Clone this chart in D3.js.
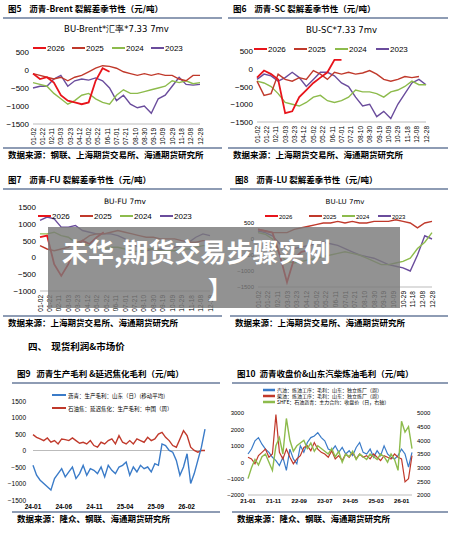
<!DOCTYPE html>
<html><head><meta charset="utf-8">
<script src="https://cdn.jsdelivr.net/npm/d3@7"></script>
<style>
body{margin:0;background:#fff;font-family:"Noto Sans CJK SC","Noto Sans",sans-serif;}
text{white-space:pre;}
</style></head><body>
<script>
const W=451,H=537;
const seasonTicks=['01-02','01-22','02-11','03-03','03-23','04-12','05-02','05-22','06-11','07-01','07-21','08-10','08-30','09-19','10-09','10-29','11-18','12-08','12-28'];
const years=['2026','2025','2024','2023'];
const yearColors=['#e8141b','#c0392b','#8dbb4c','#6a4c9c'];
// seasonal values, evenly spaced over the year (25 points = full year)
const brent26=[-100,-250,-200,-350,-700,-850,-900,-950,-900,-300,50,-50];
const brent25=[-100,-150,-200,-250,-200,-300,-200,-150,-50,50,120,100,50,-50,-100,-150,-100,-150,-100,-150,-150,-250,-300,-150,-150];
const brent24=[-350,-400,-450,-650,-800,-950,-850,-700,-650,-800,-900,-950,-700,-550,-650,-650,-600,-550,-500,-450,-300,-350,-300,-380,-350];
const brent23=[-500,-450,-450,-250,-150,-450,-300,-250,-280,-220,-300,-500,-850,-700,-950,-1050,-1000,-1200,-800,-700,-450,-200,-400,-420,-400];
const sc26=[-250,-50,-150,-300,-1250,-1200,-800,-600,-400,-250,-100,250,250];
const sc25=[-350,-750,-700,-150,-300,-350,-250,-300,-50,-150,-300,-100,-150,-100,-150,-120,-50,-150,-300,-350,-300,-220,-250,-220];
const sc24=[-350,-400,-500,-700,-950,-1000,-1050,-950,-800,-750,-900,-950,-900,-800,-600,-650,-650,-700,-800,-650,-600,-500,-350,-450,-450];
const sc23=[-300,-150,-200,-350,-250,-100,-250,-500,-300,-100,-100,-200,-400,-500,-800,-1050,-1000,-1350,-1200,-1400,-1000,-700,-400,-300,-450];
const fu26=[600,650,-200,-550,-200,300,500,400,600,750];
const fu25=[350,250,200,250,300,450,500,650,700,700,750,800,750,700,650,600,600,550,550,550,500,450,450,500,500];
const fu24=[700,700,750,650,600,450,400,350,300,250,300,300,250,150,200,250,250,200,200,200,250,250,300,350,350];
const fu23=[1100,1200,1150,900,900,950,800,750,700,700,700,650,550,400,300,200,250,250,200,300,350,450,600,700,650];
const lu26=[300,250,200,-500,-1350,-600,-400,-350];
const lu25=[300,250,200,200,200,300,350,400,450,500,500,550,500,550,500,500,550,550,550,600,550,500,350,500,550];
const lu24=[200,150,0,-500,-700,-750,-700,-650,-600,-550,-500,-450,-400,-450,-500,-600,-700,-800,-800,-750,-700,-600,-300,-100,200];
const lu23=[250,200,100,-150,-300,-300,-250,-200,-150,-100,-150,-200,-300,-400,-500,-550,-600,-700,-800,-850,-900,-1000,-500,100,0];
// fig 9 (24-01 .. 26-05)
const p9Ticks=['24-01','24-06','24-11','25-04','25-09','26-02'];
const p9Pos=[0,5,10,15,20,25];
const p9Blue=[-450,-750,-900,-1000,-1100,-1200,-850,-700,-550,-800,-650,-500,-850,-700,-450,-750,-550,-600,-700,-500,-800,-450,-600,-700,-500,-450,-350,-750,-500,-650,-450,-550,-500,-650,-400,-450,200,150,0,-50,-300,-750,-500,-100,-1000,-700,-300,100,650];
const p9Red=[480,400,350,300,380,250,300,200,350,330,300,380,300,220,250,200,300,150,100,250,200,300,350,200,450,250,200,300,200,350,300,250,400,300,350,500,550,400,300,150,100,350,600,450,100,0,-50,0,0];
// fig 10 (21-01 .. 26-05), left axis gasoline & diesel, right axis close price
const p10Ticks=['21-01','21-11','22-09','23-07','24-05','25-03','26-01'];
const p10Pos=[0,10,20,30,40,50,60];
const p10Gas=[500,800,1300,1500,1100,800,600,300,100,-200,300,-500,800,200,-100,1000,600,1200,1500,1600,1800,1500,1300,800,700,1000,600,900,500,700,400,900,1200,600,500,800,300,700,400,1000,500,300,200,400,800,500,-300,600];
const p10Dsl=[300,200,-100,400,600,800,300,500,2900,600,200,800,300,-100,200,400,900,1000,700,1200,800,600,500,300,700,200,400,100,500,300,600,200,500,300,400,200,500,300,100,400,300,200,500,300,200,-1200,-1000,400];
const p10Px=[2600,3000,3300,3100,3400,3500,3200,2900,3800,4100,3500,4800,4000,3600,3800,3900,4000,3700,3900,3600,3800,3700,3600,3500,3700,3400,3600,3200,3500,3400,3600,3300,3500,3400,3300,3500,3400,3300,3500,3400,3200,3500,3300,2900,4700,4300,4500,3700];

const svg=d3.select('body').append('svg').attr('width',W).attr('height',H);
const navy='#1f3a6b';
const F='"Noto Sans CJK SC",sans-serif';
const fmt=d3.format('d');

function frame(x0,x1,yTitle,yBot,title,source){
  svg.append('text').attr('x',x0+5).attr('y',yTitle).attr('font-size',8.5).attr('font-weight','bold').attr('font-family',F).text(title);
  svg.append('line').attr('x1',x0).attr('x2',x1).attr('y1',yTitle+6).attr('y2',yTitle+6).attr('stroke',navy).attr('stroke-width',1.2);
  svg.append('line').attr('x1',x0).attr('x2',x1).attr('y1',yBot).attr('y2',yBot).attr('stroke',navy).attr('stroke-width',1.2);
  svg.append('text').attr('x',x0+5).attr('y',yBot+10).attr('font-size',8.5).attr('font-weight','bold').attr('font-family',F).text(source);
}

function seasonal(c){
  const x=d3.scaleLinear().domain([0,24]).range([c.x0,c.x1]);
  const y=d3.scaleLinear().domain(c.ydom).range([c.yb,c.yt]);
  svg.append('text').attr('x',(c.x0+c.x1)/2).attr('y',c.ct).attr('text-anchor','middle').attr('font-size',c.cfs||8.5).attr('font-family','DejaVu Sans').text(c.chartTitle);
  svg.append('g').attr('transform',`translate(${c.x0},0)`).call(d3.axisLeft(y).tickValues(c.yticks).tickFormat(fmt).tickSize(0).tickPadding(4))
    .call(g=>{g.select('.domain').remove();g.selectAll('text').attr('font-size',c.tfs||8).attr('font-family','Liberation Sans');});
  const xl=d3.scalePoint().domain(seasonTicks).range([c.x0,c.x1]);
  svg.append('line').attr('x1',c.x0).attr('x2',c.x1).attr('y1',c.yb).attr('y2',c.yb).attr('stroke','#bbb');
  svg.append('g').selectAll('text').data(seasonTicks).join('text')
    .attr('transform',d=>`translate(${xl(d)+2.5},${c.yb+4}) rotate(-90)`).attr('text-anchor','end')
    .attr('font-size',6.5).attr('font-family','Liberation Sans').text(d=>d);
  const line=d3.line().x((d,i)=>x(i)).y(d=>y(d));
  [c.s23,c.s24,c.s25,c.s26].forEach((s,k)=>{
    const idx=3-k;
    svg.append('path').attr('d',line(s)).attr('fill','none').attr('stroke',yearColors[idx]).attr('stroke-width',idx===0?1.8:1.4);
  });
  c.leg.forEach((lx,i)=>{
    svg.append('line').attr('x1',lx).attr('x2',lx+13).attr('y1',c.ly).attr('y2',c.ly).attr('stroke',yearColors[i]).attr('stroke-width',2);
    svg.append('text').attr('x',lx+14).attr('y',c.ly+3).attr('font-size',c.lfs||8).attr('font-family','Liberation Sans').text(years[i]);
  });
}

frame(3,222,12,148,'图5    沥青-Brent 裂解差季节性（元/吨）','数据来源：钢联、上海期货交易所、海通期货研究所');
seasonal({x0:33,x1:200,yt:52,yb:124,ydom:[-1500,500],yticks:[-1500,-1000,-500,0,500],ct:32,chartTitle:'BU-Brent*汇率*7.33 7mv',ly:48,leg:[33,72,112,151],s26:brent26,s25:brent25,s24:brent24,s23:brent23});
frame(228,448,12,148,'图6    沥青-SC 裂解差季节性（元/吨）','数据来源：上海期货交易所、海通期货研究所');
seasonal({x0:257,x1:426,yt:51,yb:122,ydom:[-1500,500],yticks:[-1500,-1000,-500,0,500],ct:33,chartTitle:'BU-SC*7.33 7mv',ly:49,leg:[254,294,335,376],s26:sc26,s25:sc25,s24:sc24,s23:sc23});
frame(3,222,183,316,'图7    沥青-FU 裂解差季节性（元/吨）','数据来源：上海期货交易所、海通期货研究所');
seasonal({x0:40,x1:210,yt:207,yb:291,ydom:[-1000,1500],yticks:[-1000,-500,0,500,1000,1500],ct:204,chartTitle:'BU-FU 7mv',cfs:7.5,ly:216,leg:[38,80,120,160],s26:fu26,s25:fu25,s24:fu24,s23:fu23});
frame(230,448,183,316,'图8    沥青-LU 裂解差季节性（元/吨）','数据来源：上海期货交易所、海通期货研究所');
seasonal({x0:258,x1:432,yt:223,yb:287,ydom:[-1500,500],yticks:[-1500,-1000,-500,0,500],tfs:6,ct:204,chartTitle:'BU-LU 7mv',cfs:7,ly:216,leg:[265,309,342,378],lfs:6,s26:lu26,s25:lu25,s24:lu24,s23:lu23});

svg.append('text').attr('x',28).attr('y',350).attr('font-size',9.5).attr('font-weight','bold').attr('font-family',F).text('四、  现货利润&市场价');

// fig 9
frame(12,220,377,512,'图9   沥青生产毛利 &延迟焦化毛利（元/吨）','数据来源：隆众、钢联、海通期货研究所');
{
  const x=d3.scaleLinear().domain([0,28]).range([33,205]);
  const y=d3.scaleLinear().domain([-1500,1500]).range([500,401]);
  svg.append('g').attr('transform','translate(28,0)').call(d3.axisLeft(y).tickValues([-1500,-1000,-500,0,500,1000,1500]).tickFormat(fmt).tickSize(0).tickPadding(2))
    .call(g=>{g.select('.domain').remove();g.selectAll('text').attr('font-size',6.5).attr('font-family','Liberation Sans');});
  svg.append('line').attr('x1',33).attr('x2',205).attr('y1',y(0)).attr('y2',y(0)).attr('stroke','#bbb');
  svg.append('g').selectAll('text').data(p9Ticks).join('text').attr('x',(d,i)=>x(p9Pos[i])).attr('y',509).attr('text-anchor','middle')
    .attr('font-size',6.5).attr('font-family','Liberation Sans').attr('font-weight','bold').text(d=>d);
  const lx=d3.scaleLinear().domain([0,p9Blue.length-1]).range([33,205]);
  const ln=d3.line().x((d,i)=>lx(i)).y(d=>y(d));
  svg.append('path').attr('d',ln(p9Red)).attr('fill','none').attr('stroke','#c0392b').attr('stroke-width',1.4);
  svg.append('path').attr('d',ln(p9Blue)).attr('fill','none').attr('stroke','#3a7bc8').attr('stroke-width',1.4);
  [['#3a7bc8','沥青：生产毛利：山东（日）(移动平均)',395],['#c0392b','石油焦：延迟焦化：生产毛利：中国（周）',408]].forEach(d=>{
    svg.append('line').attr('x1',52).attr('x2',66).attr('y1',d[2]).attr('y2',d[2]).attr('stroke',d[0]).attr('stroke-width',2);
    svg.append('text').attr('x',68).attr('y',d[2]+2.5).attr('font-size',5.5).attr('font-family',F).text(d[1]);
  });
}
// fig 10
frame(232,448,377,512,'图10  沥青收盘价&山东汽柴炼油毛利（元/吨）','数据来源：隆众、钢联、海通期货研究所');
{
  const x=d3.scaleLinear().domain([0,64]).range([248,412]);
  const yl=d3.scaleLinear().domain([-2000,3000]).range([495,413]);
  const yr=d3.scaleLinear().domain([2000,5000]).range([495,413]);
  svg.append('g').attr('transform','translate(246,0)').call(d3.axisLeft(yl).tickValues([-2000,-1000,0,1000,2000,3000]).tickFormat(fmt).tickSize(0).tickPadding(2))
    .call(g=>{g.select('.domain').remove();g.selectAll('text').attr('font-size',6).attr('font-family','Liberation Sans');});
  svg.append('g').attr('transform','translate(414,0)').call(d3.axisRight(yr).tickValues([2000,2500,3000,3500,4000,4500,5000]).tickFormat(fmt).tickSize(0).tickPadding(3))
    .call(g=>{g.select('.domain').remove();g.selectAll('text').attr('font-size',6).attr('font-family','Liberation Sans');});
  svg.append('line').attr('x1',248).attr('x2',412).attr('y1',495).attr('y2',495).attr('stroke','#bbb');
  svg.append('g').selectAll('text').data(p10Ticks).join('text').attr('x',(d,i)=>x(p10Pos[i])).attr('y',503).attr('text-anchor','middle')
    .attr('font-size',6).attr('font-family','Liberation Sans').attr('font-weight','bold').text(d=>d);
  const lx=d3.scaleLinear().domain([0,p10Gas.length-1]).range([248,412]);
  svg.append('path').attr('d',d3.line().x((d,i)=>lx(i)).y(d=>yl(d))(p10Gas)).attr('fill','none').attr('stroke','#3a7bc8').attr('stroke-width',1.2);
  svg.append('path').attr('d',d3.line().x((d,i)=>lx(i)).y(d=>yl(d))(p10Dsl)).attr('fill','none').attr('stroke','#c0392b').attr('stroke-width',1.2);
  svg.append('path').attr('d',d3.line().x((d,i)=>lx(i)).y(d=>yr(d))(p10Px)).attr('fill','none').attr('stroke','#8dbb4c').attr('stroke-width',1.4);
  [['#3a7bc8','汽油：炼油工序：毛利：山东：独立炼厂（周）',390],['#c0392b','柴油：炼油工序：毛利：山东：独立炼厂（周）',396],['#8dbb4c','SHFE：石油沥青：主力合约：收盘价（日，右轴）',402]].forEach(d=>{
    svg.append('line').attr('x1',263).attr('x2',275).attr('y1',d[2]).attr('y2',d[2]).attr('stroke',d[0]).attr('stroke-width',2.5);
    svg.append('text').attr('x',277).attr('y',d[2]+2).attr('font-size',5).attr('font-family',F).text(d[1]);
  });
}
// overlay banner
svg.append('rect').attr('x',48).attr('y',227).attr('width',352).attr('height',81).attr('fill','#7a7a7a').attr('opacity',0.82);
svg.append('text').attr('x',62).attr('y',262).attr('font-size',26).attr('font-weight','bold').attr('fill','#fff').attr('font-family',F).text('未华,期货交易步骤实例');
svg.append('text').attr('x',208).attr('y',298).attr('font-size',24).attr('font-weight','bold').attr('fill','#fff').attr('font-family',F).text('】');
</script>
</body></html>
